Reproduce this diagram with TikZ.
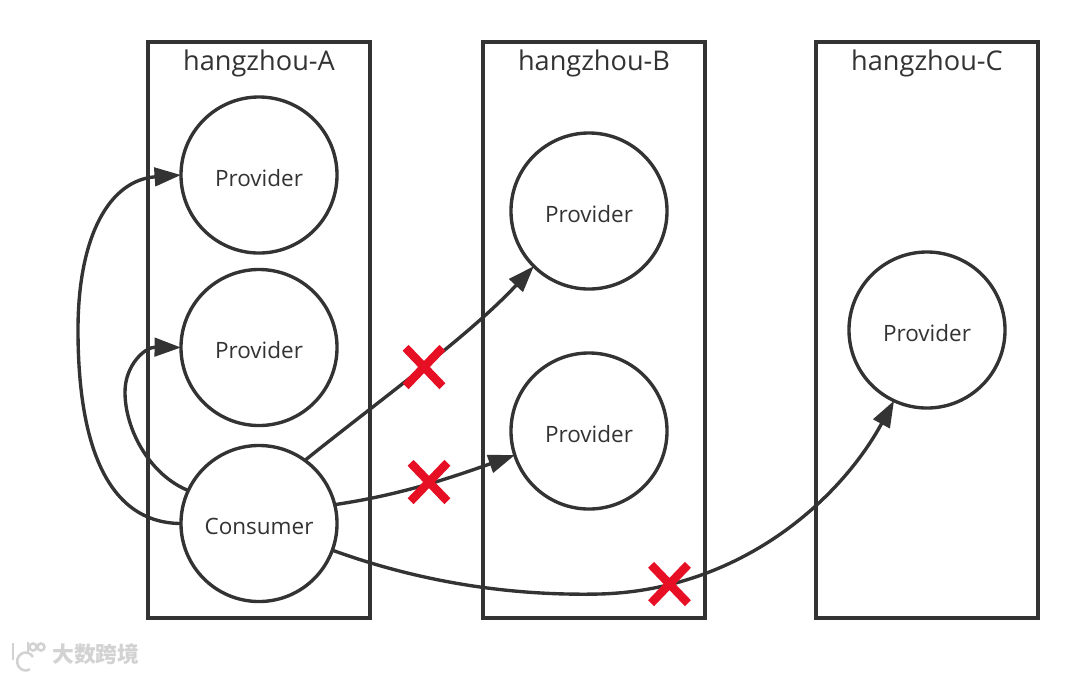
\documentclass[tikz,border=0pt]{standalone}
\usepackage{fontspec}
\setmainfont{Open Sans}
\newfontfamily\cjkfont{Noto Sans CJK SC}
\usetikzlibrary{arrows.meta,shapes.misc}
\definecolor{linegray}{HTML}{333333}
\definecolor{crossred}{HTML}{E60F23}
\tikzset{
 zonebox/.style={draw=linegray,line width=2.4pt,minimum width=5.55cm,minimum height=14.4cm},
 zonetitle/.style={text=linegray,font=\fontsize{19.3}{22}\selectfont},
 peer/.style={circle,draw=linegray,line width=2.4pt,fill=white,minimum size=3.9cm,outer sep=0pt,text=linegray,text height=0.57cm,font=\fontsize{16}{18}\selectfont},
 call/.style={draw=linegray,line width=2.4pt,-{Triangle[length=0.66cm,width=0.46cm]}},
 redcross/.style={cross out,draw=crossred,line width=6pt,minimum width=0.92cm,minimum height=0.96cm,inner sep=0pt,outer sep=0pt},
 mark100/.style={draw=gray!35,line width=1.8pt}
}
\begin{document}
\begin{tikzpicture}[x=0.025cm,y=-0.025cm]
 \useasboundingbox (0,0) rectangle (1080,673);
 \node[zonebox] (zoneA) at (259,330) {}; \node[zonetitle] (titleA) at (259,63) {hangzhou-A};
 \node[zonebox] (zoneB) at (594,330) {}; \node[zonetitle] (titleB) at (594,63) {hangzhou-B};
 \node[zonebox] (zoneC) at (927,330) {}; \node[zonetitle] (titleC) at (927,63) {hangzhou-C};
 \node[peer] (provA1) at (259,175) {Provider};
 \node[peer] (provA2) at (259,347.5) {Provider};
 \node[peer] (cons) at (259,523.5) {Consumer};
 \node[peer] (provB1) at (589,211) {Provider};
 \node[peer] (provB2) at (589,431) {Provider};
 \node[peer] (provC) at (927,330) {Provider};
 % calls from the consumer
 \draw[call] (cons.west) .. controls (105,523) and (78,440) .. (78,330) .. controls (78,235) and (110,180) .. (provA1.west);
 \draw[call] (cons.155) .. controls (150,475) and (125,430) .. (125,392) .. controls (125,365) and (145,347) .. (provA2.west);
 \draw[call] (cons.54) .. controls (380,400) and (470,335) .. (provB1.225);
 \draw[call] (cons.14) .. controls (400,495) and (450,478) .. (provB2.198);
 \draw[call] (cons.-20) .. controls (420,582) and (510,596) .. (600,594) .. controls (740,590) and (840,500) .. (provC.245);
 \node[redcross] (crossB1) at (424,367) {};
 \node[redcross] (crossB2) at (429,482) {};
 \node[redcross] (crossC) at (669.5,584) {};
 % watermark
 \node[text=gray!35,font=\cjkfont\bfseries\fontsize{15.5}{18}\selectfont,inner sep=0pt] (mark) at (96,654) {大数跨境};
 \draw[mark100] (13,643) -- (13,660);
 \draw[mark100] (33,657) arc (-30:-300:8.5 and 9);
 \draw[mark100] (33,647) circle (3.5);
 \draw[mark100] (41,647) circle (3.5);
 \draw[mark100] (28,642) -- (28,652);
\end{tikzpicture}
\end{document}
